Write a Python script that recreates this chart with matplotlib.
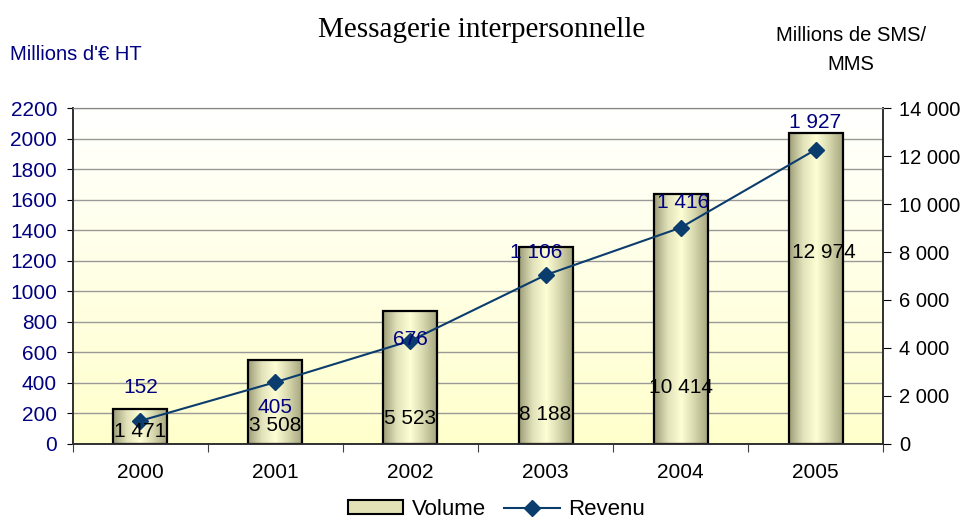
import numpy as np
import matplotlib.pyplot as plt
from matplotlib.colors import LinearSegmentedColormap
from matplotlib.transforms import blended_transform_factory
from matplotlib.patches import Patch
from matplotlib.lines import Line2D

plt.rcParams['font.family'] = ['Liberation Sans', 'DejaVu Sans']

# data
years = ['2000', '2001', '2002', '2003', '2004', '2005']
volume = [1471, 3508, 5523, 8188, 10414, 12974]   # millions de SMS/MMS (right axis)
revenu = [152, 405, 676, 1106, 1416, 1927]        # millions d'euros HT (left axis)

# data labels were moved around by hand in the original (left-axis units)
rev_label_y = [373, 236, 681, 1257, 1584, 2107]
rev_label_dx = [0, 0, 0, -0.07, 0.02, 0]
vol_label_y = [79, 124, 170, 196, 367, 1257]
vol_label_dx = [0, 0, 0, 0, 0, 0.06]

navy = '#000080'
line_col = '#0B3C6E'


def fmt(v):
    return f'{v:,}'.replace(',', ' ')


fig = plt.figure(figsize=(9.64, 5.21), dpi=100)
ax = fig.add_axes([0.0757, 0.1478, 0.8403, 0.6449])   # bars, ticks on the right
ax2 = ax.twinx()                                        # line, ticks on the left
ax.yaxis.tick_right()
ax.yaxis.set_label_position('right')
ax2.yaxis.tick_left()
ax2.patch.set_visible(False)

x = np.arange(len(years))

# background gradient white -> pale yellow
bg = LinearSegmentedColormap.from_list('bg', ['#FFFFFF', '#FFFFCC'])
ax.imshow(np.linspace(0, 1, 256).reshape(-1, 1), cmap=bg, aspect='auto',
          extent=[0, 1, 0, 1], transform=ax.transAxes, zorder=0)

# gridlines follow the left axis, drawn under the bars
rev_ticks = np.arange(0, 2201, 200)
trans = blended_transform_factory(ax.transAxes, ax2.transData)
ax.hlines(rev_ticks, 0, 1, transform=trans, colors='#999999', lw=1, zorder=1)

# bars with horizontal shading
bars = ax.bar(x, volume, width=0.4, facecolor='none', edgecolor='black', lw=1.6, zorder=3)
shade = LinearSegmentedColormap.from_list('shade', ['#9E9E7A', '#E2E2BA', '#FFFFD6', '#D6D6AC', '#A3A37E'])
for b in bars:
    x0, y0 = b.get_x(), b.get_y()
    im = ax.imshow(np.linspace(0, 1, 64).reshape(1, -1), cmap=shade, aspect='auto',
                   extent=[x0, x0 + b.get_width(), y0, y0 + b.get_height()], zorder=2)
    im.set_clip_path(b)

# revenue line
ax2.plot(x, revenu, color=line_col, lw=1.5, marker='D', ms=8, zorder=4)

ax.set_xlim(-0.5, len(years) - 0.5)
ax.set_ylim(0, 14000)
ax2.set_ylim(0, 2200)

# ticks
ax.set_xticks(np.arange(len(years) + 1) - 0.5)
ax.set_xticklabels([])
ax.set_xticks(x, minor=True)
ax.set_xticklabels(years, minor=True, fontsize=15)
ax.tick_params(axis='x', which='major', length=6, direction='out', color='#404040')
ax.tick_params(axis='x', which='minor', length=0, pad=14)
ax.set_yticks(np.arange(0, 14001, 2000))
ax.set_yticklabels([fmt(v) for v in range(0, 14001, 2000)], fontsize=14.5)
ax.tick_params(axis='y', length=6, direction='out', pad=5.5)
ax2.set_yticks(rev_ticks)
ax2.set_yticklabels([str(v) for v in rev_ticks], fontsize=15, color=navy)
ax2.tick_params(axis='y', length=4.5, direction='out', pad=7)

for a in (ax, ax2):
    for side in ('left', 'right', 'bottom'):
        a.spines[side].set_color('#303030')
        a.spines[side].set_linewidth(1.2)
    a.spines['top'].set_color('#888888')

# data labels
for i in x:
    ax2.text(i + rev_label_dx[i], rev_label_y[i], fmt(revenu[i]), ha='center', va='center',
             color=navy, fontsize=15, zorder=5)
    ax2.text(i + vol_label_dx[i], vol_label_y[i], fmt(volume[i]), ha='center', va='center',
             color='black', fontsize=15, zorder=5)

# titles
fig.text(0.5, 0.942, 'Messagerie interpersonnelle', ha='center', va='center',
         fontsize=21, family='Liberation Serif')
fig.text(0.01, 0.895, "Millions d'€ HT", ha='left', va='center', color=navy, fontsize=14.5)
fig.text(0.883, 0.904, 'Millions de SMS/\nMMS', ha='center', va='center', fontsize=14.5,
         linespacing=1.7)

# legend
handles = [Patch(facecolor='#E2E2B6', edgecolor='black', lw=1.5),
           Line2D([0], [0], color=line_col, lw=1.5, marker='D', ms=8)]
fig.legend(handles, ['Volume', 'Revenu'], loc='center', bbox_to_anchor=(0.515, 0.022),
           ncol=2, frameon=False, fontsize=16, handlelength=2.5, handleheight=0.6,
           handletextpad=0.4, columnspacing=0.8)

fig.savefig('out.png', dpi=100)
